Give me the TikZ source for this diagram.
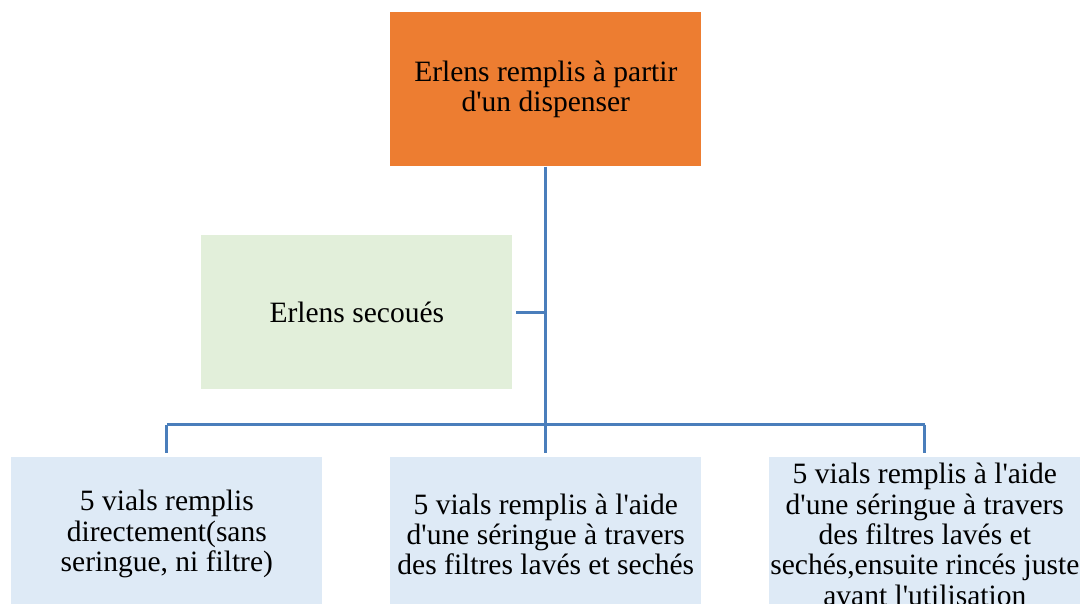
\documentclass[tikz,border=0pt]{standalone}
\usepackage{fontspec}
\setmainfont{Liberation Serif}[Ligatures=TeXOff]
\usepackage{xcolor}
\usetikzlibrary{positioning, calc}

\definecolor{topfill}{HTML}{ED7D31}
\definecolor{midfill}{HTML}{E2EFDA}
\definecolor{lowfill}{HTML}{DEEAF6}
\definecolor{linkblue}{HTML}{4A7EBB}

\begin{document}
\begin{tikzpicture}[x=0.02cm, y=-0.02cm,
    box/.style={minimum width=6.22cm, minimum height=3.08cm, inner sep=0pt,
        align=center, font=\fontsize{16.8}{17.3}\selectfont},
    link/.style={draw=linkblue, line width=1.7pt}]
    \useasboundingbox (0,0) rectangle (1082,604);
    \clip (0,0) rectangle (1082,604);
    % boxes
    \node[box, fill=topfill, anchor=north west] (top) at (390,12)
        {Erlens remplis à partir\\d'un dispenser};
    \node[box, fill=midfill, anchor=north west] (shake) at (201,235)
        {Erlens secoués};
    \node[box, fill=lowfill, anchor=north west] (left) at (11,457)
        {5 vials remplis\\directement(sans\\seringue, ni filtre)};
    \node[box, fill=lowfill, anchor=north west] (mid) at (390,457)
        {5 vials remplis à l'aide\\d'une séringue à travers\\des filtres lavés et sechés};
    \node[box, fill=lowfill, anchor=north west] (right) at (769,457)
        {5 vials remplis à l'aide\\d'une séringue à travers\\des filtres lavés et\\sechés,ensuite rincés juste\\avant l'utilisation};
    % connectors
    \coordinate (J) at ($(top.south)+(0,258)$);
    \coordinate (JL) at (J -| left.north);
    \coordinate (JR) at (J -| right.north);
    \draw[link] (top.south) -- (J);
    \draw[link, shorten <=2pt] (shake.east) -- (shake.east -| top.south);
    \draw[link] (JL) -- (JR);
    \draw[link, shorten >=2pt] (JL) -- (left.north);
    \draw[link, shorten >=2pt] (J) -- (mid.north);
    \draw[link, shorten >=2pt] (JR) -- (right.north);
\end{tikzpicture}
\end{document}
